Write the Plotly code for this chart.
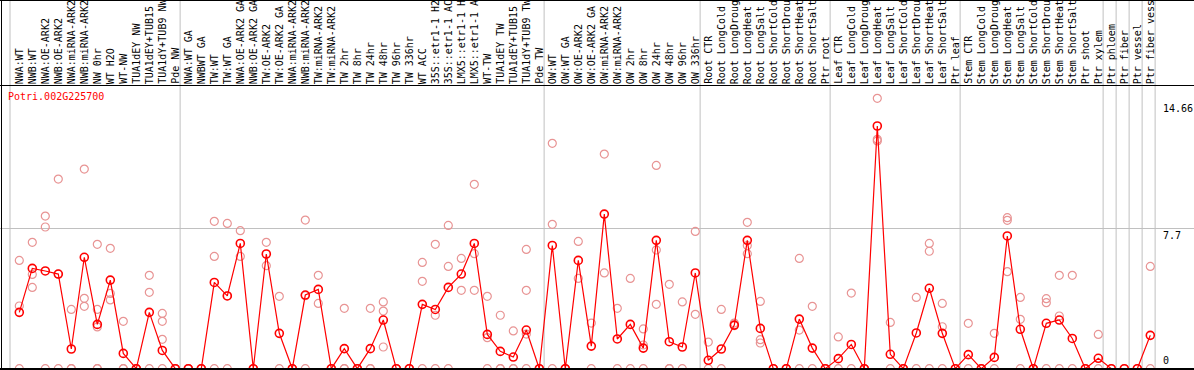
import plotly.graph_objects as go

gene_id = "Potri.002G225700"

categories = [
    "NWA:WT", "NWB:WT", "NWA:OE-ARK2", "NWB:OE-ARK2", "NWA:miRNA-ARK2", "NWB:miRNA-ARK2",
    "NW 0hr", "WT H2O", "WT-NW", "TUA1dEY NW", "TUA1dEY+TUB15 NW", "TUA1dY+TUB9 NW", "Pde NW",
    "NWA:WT GA", "NWBWT GA", "TW:WT", "TW:WT GA", "NWA:OE-ARK2 GA", "NWB:OE-ARK2 GA",
    "TW:OE-ARK2", "TW:OE-ARK2 GA", "NWA:miRNA-ARK2 GA", "NWB:miRNA-ARK2 GA", "TW:miRNA-ARK2",
    "TW:miRNA-ARK2 GA", "TW 2hr", "TW 8hr", "TW 24hr", "TW 48hr", "TW 96hr", "TW 336hr",
    "WT ACC", "35S::etr1-1 H2O", "35S::etr1-1 ACC", "LMX5::etr1-1 H2O", "LMX5::etr1-1 ACC",
    "WT-TW", "TUA1dEY TW", "TUA1dEY+TUB15 TW", "TUA1dY+TUB9 TW", "Pde TW",
    "OW:WT", "OW:WT GA", "OW:OE-ARK2", "OW:OE-ARK2 GA", "OW:miRNA-ARK2", "OW:miRNA-ARK2 GA",
    "OW 2hr", "OW 8hr", "OW 24hr", "OW 48hr", "OW 96hr", "OW 336hr",
    "Root CTR", "Root LongCold", "Root LongDrought", "Root LongHeat", "Root LongSalt",
    "Root ShortCold", "Root ShortDrought", "Root ShortHeat", "Root ShortSalt", "Ptr root",
    "Leaf CTR", "Leaf LongCold", "Leaf LongDrought", "Leaf LongHeat", "Leaf LongSalt",
    "Leaf ShortCold", "Leaf ShortDrought", "Leaf ShortHeat", "Leaf ShortSalt", "Ptr leaf",
    "Stem CTR", "Stem LongCold", "Stem LongDrought", "Stem LongHeat", "Stem LongSalt",
    "Stem ShortCold", "Stem ShortDrought", "Stem ShortHeat", "Stem ShortSalt", "Ptr shoot",
    "Ptr xylem", "Ptr phloem", "Ptr fiber", "Ptr vessel", "Ptr fiber vessel",
]

mean_values = [
    3.09, 5.50, 5.36, 5.19, 1.08, 6.11, 2.43, 4.86, 0.84, 0, 3.09, 1.00, 0,
    0, 0, 4.73, 3.99, 6.87, 0, 6.29, 1.94, 0, 4.04, 4.35, 0, 1.10, 0, 1.10, 2.67, 0, 0,
    3.53, 3.25, 4.46, 5.19, 6.87, 1.88, 0.95, 0.64, 2.12, 0,
    6.76, 0, 5.94, 1.24, 8.48, 1.63, 2.43, 1.13, 7.04, 1.48, 1.19, 5.25,
    0.46, 1.08, 2.39, 7.04, 2.21, 0, 0, 2.72, 1.13, 0,
    0.55, 1.33, 0, 13.31, 0.79, 0, 1.96, 4.41, 1.94, 0,
    0.77, 0, 0.62, 7.28, 2.16, 0, 2.49, 2.67, 1.66, 0,
    0.57, 0, 0, 0, 1.83,
]

replicate_values = [
    [5.94, 3.44, 0], [6.93, 5.17, 4.46], [8.37, 7.77, 0], [10.40, 5.19, 0], [3.25, 0, 0],
    [10.95, 3.86, 3.42], [6.82, 3.25, 2.29, 0, 0], [6.60, 4.13, 3.77], [2.60, 0, 0], [0, 0, 0],
    [5.12, 4.19, 0], [3.03, 2.60, 1.61, 0], [0, 0, 0],
    [0, 0, 0], [0, 0, 0], [8.08, 6.16, 0], [7.97, 4.0, 0], [7.57, 6.16], [0, 0],
    [6.93, 5.65], [3.97, 0], [0, 0], [8.15, 4.0, 0], [5.12, 3.58], [0, 0],
    [3.31, 0, 0], [0, 0], [3.31, 0, 0], [3.66, 3.16, 1.19], [0, 0], [0, 0],
    [5.83, 4.79, 0], [6.82, 2.93, 0], [7.86, 5.61, 0], [6.05, 4.30], [10.11, 6.31, 4.30],
    [3.97, 1.70, 0], [2.93, 0, 0], [2.07, 0, 0], [6.54, 4.30, 1.90, 0], [0, 0],
    [12.36, 7.92, 0], [0, 0], [6.98, 4.95], [2.50, 0], [11.77, 5.25], [3.31, 0],
    [4.95, 0], [2.18, 1.30, 0], [11.15, 6.51, 3.53], [4.63, 0, 0], [3.66, 0], [7.53, 2.98],
    [1.46, 0], [3.25, 0], [2.50, 2.36], [8.03, 6.75, 6.31], [3.69, 1.59, 1.41],
    [0, 0], [0, 0], [6.05, 2.12, 0], [3.42, 0], [0, 0],
    [1.74, 0], [4.15, 0], [0, 0], [14.83, 12.58, 12.49], [2.54, 0],
    [0, 0], [3.91, 0], [6.87, 6.44, 0], [3.58, 2.30, 0], [0, 0],
    [2.49, 0], [0, 0], [1.94, 0], [8.28, 8.14, 5.32], [3.91, 2.71, 0],
    [0, 0], [3.84, 3.62, 0], [5.12, 2.89, 0], [5.12, 0], [0, 0],
    [1.88, 0], [0], [0], [0], [5.61, 0],
]

group_ends = [12, 40, 52, 62, 72, 83, 84, 85, 86, 87]
axis_ticks = [0, 7.7, 14.66]
axis_tick_text = ["0", "7.7", "14.66"]

# header shows at most this many characters of a label (as in the reference)
LABEL_CHARS = 14

# ---- layout geometry (pixel <-> axis helpers) ----
W, H = 1194, 370
X0_PX, COL_PX = 19.3, 13.0          # pixel of first column, column pitch
Y0_PX, UNIT_PX = 368.7, 18.234      # pixel of value 0, pixels per unit


def px_to_x(px):
    return (px - X0_PX) / COL_PX


def py_to_y(py):
    return (Y0_PX - py) / UNIT_PX


FONT = "DejaVu Sans Mono"
n = len(categories)
xs = list(range(n))

rep_x, rep_y = [], []
for i, vals in enumerate(replicate_values):
    for v in vals:
        rep_x.append(i)
        rep_y.append(v)

fig = go.Figure()
fig.add_trace(go.Scatter(
    x=rep_x, y=rep_y, mode="markers",
    marker=dict(symbol="circle-open", size=8, color="#E89494", line=dict(width=1.2)),
    hoverinfo="skip", showlegend=False, cliponaxis=False,
))
fig.add_trace(go.Scatter(
    x=xs, y=mean_values, mode="lines+markers",
    line=dict(color="#FF0000", width=1.2),
    marker=dict(symbol="circle-open", size=8, color="#FF0000", line=dict(width=1.6)),
    text=categories, showlegend=False, cliponaxis=False,
))

shapes = []
sep_positions = [px_to_x(10)] + [g + 0.37 for g in group_ends]
for sx in sep_positions:
    shapes.append(dict(type="line", xref="x", yref="paper", x0=sx, x1=sx, y0=0, y1=1,
                       line=dict(color="#C0C0C0", width=1), layer="below"))
black = dict(color="#000000", width=1)
shapes.append(dict(type="line", xref="paper", yref="y", x0=0, x1=1,
                   y0=py_to_y(85.5), y1=py_to_y(85.5), line=black))
shapes.append(dict(type="line", xref="paper", yref="y", x0=0, x1=1,
                   y0=py_to_y(0.5), y1=py_to_y(0.5), line=black))
shapes.append(dict(type="line", xref="paper", yref="y", x0=0, x1=1,
                   y0=py_to_y(369), y1=py_to_y(369), line=dict(color="#000000", width=2)))
shapes.append(dict(type="line", xref="x", yref="paper", x0=px_to_x(1.5), x1=px_to_x(1.5),
                   y0=0, y1=1, line=black))

annotations = []
for i, cat in enumerate(categories):
    annotations.append(dict(
        x=i, y=py_to_y(85), xref="x", yref="y", text=cat[:LABEL_CHARS].rstrip(), textangle=-90,
        xanchor="center", yanchor="bottom", showarrow=False, borderpad=0,
        font=dict(family=FONT, size=10, color="#000000"),
    ))
annotations.append(dict(
    x=px_to_x(7), y=py_to_y(96.7), xref="x", yref="y", text=gene_id,
    xanchor="left", yanchor="middle", showarrow=False, borderpad=0,
    font=dict(family=FONT, size=10, color="#FF0000"),
))
for v, t in zip(axis_ticks, axis_tick_text):
    if v == 0:
        annotations.append(dict(x=px_to_x(1162), y=v + 0.1, xref="x", yref="y",
                                text=t, xanchor="left", yanchor="bottom", showarrow=False,
                                borderpad=0, font=dict(family=FONT, size=10, color="#000000")))
    else:
        annotations.append(dict(x=px_to_x(1162), y=v - 0.05, xref="x", yref="y",
                                text=t, xanchor="left", yanchor="top", showarrow=False,
                                borderpad=0, font=dict(family=FONT, size=10, color="#000000")))

fig.update_layout(
    width=W, height=H,
    margin=dict(l=0, r=0, t=0, b=0, pad=0),
    paper_bgcolor="#FFFFFF", plot_bgcolor="#FFFFFF",
    xaxis=dict(range=[px_to_x(0), px_to_x(W)], showgrid=False, zeroline=False,
               showticklabels=False, ticks="", fixedrange=True),
    yaxis=dict(range=[py_to_y(H), py_to_y(0)], tickvals=[7.7], showgrid=True,
               gridcolor="#C0C0C0", gridwidth=1, zeroline=False, showticklabels=False,
               ticks="", fixedrange=True),
    shapes=shapes, annotations=annotations, showlegend=False,
)

fig.write_html("out.html", config={"displayModeBar": False},
               post_script="document.body.style.margin='0px';")
